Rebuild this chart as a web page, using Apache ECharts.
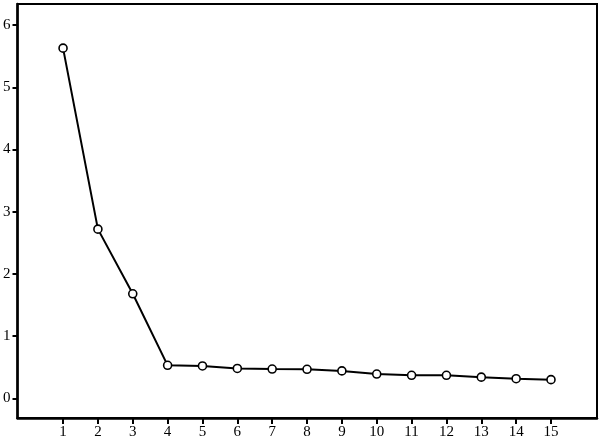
<!DOCTYPE html>
<html><head><meta charset="utf-8">
<script src="https://cdn.jsdelivr.net/npm/echarts@6/dist/echarts.min.js"></script>
<style>html,body{margin:0;padding:0;background:#fff}#c{width:600px;height:441px}</style>
</head><body><div id="c"></div>
<script>
const components = [1,2,3,4,5,6,7,8,9,10,11,12,13,14,15];
const eigenvalues = [5.63,2.72,1.68,0.53,0.52,0.48,0.47,0.466,0.44,0.39,0.37,0.37,0.34,0.315,0.30];
const yTicks = [0,1,2,3,4,5,6];
const xTicks = components;

const chart = echarts.init(document.getElementById('c'), null, {renderer:'canvas'});
const font = {fontFamily:'Liberation Serif', fontSize:15, color:'#000'};
chart.setOption({
  animation:false,
  backgroundColor:'#fff',
  grid:{left:16, top:4, right:3, bottom:23, show:true, borderColor:'#000', borderWidth:2, containLabel:false},
  xAxis:{type:'value', min:-0.307, max:16.32,
    axisLine:{show:true, onZero:false, lineStyle:{color:'#000', width:2.5}},
    axisTick:{show:true, customValues:xTicks, length:6, lineStyle:{color:'#000', width:2}},
    axisLabel:Object.assign({customValues:xTicks, margin:7}, font),
    splitLine:{show:false}},
  yAxis:{type:'value', min:-0.317, max:6.34,
    axisLine:{show:true, onZero:false, lineStyle:{color:'#000', width:2.5}},
    axisTick:{show:true, customValues:yTicks, length:5, lineStyle:{color:'#000', width:2}},
    axisLabel:Object.assign({customValues:yTicks, margin:7}, font),
    splitLine:{show:false}},
  series:[{type:'line', data:components.map((c,i)=>[c, eigenvalues[i]]),
    symbol:'circle', symbolSize:8, showSymbol:true,
    lineStyle:{color:'#000', width:2},
    itemStyle:{color:'#fff', borderColor:'#000', borderWidth:1.6}}]
});
</script></body></html>
